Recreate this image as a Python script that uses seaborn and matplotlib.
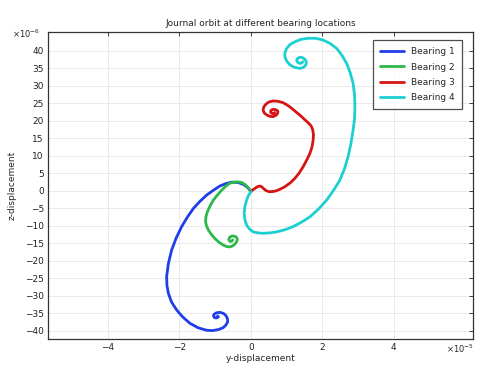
import numpy as np
import pandas as pd
import matplotlib
matplotlib.use("Agg")
from matplotlib import pyplot as plt
import seaborn as sns

# y-displacement in units of 1e-5, z-displacement in units of 1e-6
b1_y = [0, -0.06, -0.12, -0.22, -0.36, -0.54, -0.70, -0.87, -1.05, -1.24, -1.43, -1.61, -1.78,
        -1.94, -2.09, -2.22, -2.31, -2.36, -2.35, -2.31, -2.22, -2.08, -1.91, -1.71, -1.48,
        -1.24, -1.07, -0.91, -0.78, -0.70, -0.65, -0.66, -0.70, -0.77, -0.86, -0.96, -1.03,
        -1.05, -1.02, -0.96, -0.91, -0.93]
b1_z = [-0.3, 0.5, 1.1, 1.8, 2.3, 2.4, 2.0, 1.3, 0.1, -1.3, -3.1, -5.1, -7.6,
        -10.3, -13.5, -17.0, -20.8, -24.6, -27.2, -29.4, -31.9, -34.1, -36.1, -37.9, -39.2,
        -39.9, -40.0, -39.7, -39.2, -38.4, -37.5, -36.5, -35.7, -35.1, -34.8, -34.9, -35.3,
        -35.8, -36.3, -36.4, -36.1, -35.8]

b2_y = [0, -0.06, -0.12, -0.19, -0.26, -0.38, -0.49, -0.59, -0.70, -0.82, -0.94, -1.05, -1.14,
        -1.22, -1.26, -1.27, -1.24, -1.19, -1.11, -1.01, -0.89, -0.77, -0.68, -0.59, -0.51,
        -0.45, -0.40, -0.38, -0.41, -0.47, -0.54, -0.60, -0.62, -0.59, -0.54, -0.51]
b2_z = [-0.3, 0.6, 1.3, 1.9, 2.3, 2.5, 2.4, 2.1, 1.3, 0.1, -1.3, -2.7, -4.3,
        -6.1, -7.5, -8.9, -10.2, -11.3, -12.5, -13.7, -14.8, -15.6, -16.0, -16.1, -15.8,
        -15.3, -14.6, -13.9, -13.3, -13.0, -13.0, -13.4, -14.0, -14.5, -14.5, -14.1]

b3_y = [0, 0.05, 0.11, 0.18, 0.25, 0.30, 0.36, 0.42, 0.50, 0.60, 0.70, 0.82, 0.95, 1.10,
        1.23, 1.35, 1.46, 1.56, 1.65, 1.71, 1.74, 1.75, 1.73, 1.69, 1.60, 1.50, 1.42, 1.28,
        1.14, 1.02, 0.90, 0.76, 0.62, 0.50, 0.42, 0.36, 0.34, 0.37, 0.44, 0.53, 0.62, 0.70,
        0.75, 0.75, 0.70, 0.62, 0.56, 0.55, 0.59, 0.64, 0.66]
b3_z = [-0.3, 0.2, 0.6, 1.1, 1.3, 1.1, 0.5, 0.0, -0.3, -0.3, -0.1, 0.4, 1.1, 2.2,
        3.5, 5.0, 6.8, 8.7, 10.6, 12.5, 14.4, 16.0, 17.3, 18.4, 19.4, 20.3, 21.1, 22.3,
        23.5, 24.4, 25.1, 25.5, 25.6, 25.3, 24.7, 23.9, 23.0, 22.2, 21.6, 21.2, 21.1, 21.5,
        22.1, 22.7, 23.1, 23.2, 22.9, 22.4, 22.0, 22.0, 22.3]

b4_y = [0, -0.07, -0.12, -0.17, -0.19, -0.17, -0.12, -0.04, 0.06, 0.20, 0.34, 0.53, 0.72,
        0.95, 1.18, 1.42, 1.65, 1.89, 2.12, 2.32, 2.49, 2.62, 2.72, 2.80, 2.86, 2.90, 2.91,
        2.90, 2.86, 2.78, 2.68, 2.55, 2.40, 2.22, 2.02, 1.81, 1.60, 1.40, 1.23, 1.09, 1.00,
        0.95, 0.95, 1.00, 1.09, 1.22, 1.37, 1.47, 1.54, 1.55, 1.51, 1.44, 1.37, 1.30, 1.28,
        1.31, 1.37, 1.43, 1.45]
b4_z = [-0.3, -1.4, -2.7, -4.5, -6.5, -8.3, -9.9, -11.0, -11.8, -12.1, -12.2, -12.1, -11.8,
        -11.2, -10.3, -9.0, -7.5, -5.3, -2.7, 0.2, 3.0, 6.3, 9.7, 13.5, 17.3, 20.6, 23.9,
        27.3, 30.6, 33.6, 36.3, 38.6, 40.6, 42.0, 43.0, 43.5, 43.5, 43.2, 42.5, 41.7, 40.6,
        39.4, 38.2, 37.0, 35.9, 35.2, 34.9, 35.2, 35.9, 36.8, 37.5, 38.0, 38.1, 37.7, 37.1,
        36.6, 36.3, 36.5, 36.8]

names = ["Bearing 1", "Bearing 2", "Bearing 3", "Bearing 4"]
colors = ["#1f3de8", "#2db84c", "#d51515", "#1ccfd0"]

frames = []
for name, ys, zs in zip(names, [b1_y, b2_y, b3_y, b4_y], [b1_z, b2_z, b3_z, b4_z]):
    frames.append(pd.DataFrame({"y": ys, "z": zs, "bearing": name}))
df = pd.concat(frames, ignore_index=True)

sns.set_theme(style="whitegrid")
plt.rcParams["font.family"] = ["DejaVu Sans"]

fig = plt.figure(figsize=(4.81, 3.66), dpi=100)
ax = fig.add_axes([0.0998, 0.0738, 0.8832, 0.8388])

sns.lineplot(data=df, x="y", y="z", hue="bearing", palette=colors, sort=False,
             estimator=None, units="bearing", linewidth=2.0, ax=ax)
for line in ax.get_lines():
    line.set_solid_joinstyle("round")
    line.set_solid_capstyle("round")

ax.set_xlim(-5.68, 6.21)
ax.set_ylim(-42.4, 45.3)
ax.set_xticks([-4, -2, 0, 2, 4])
ax.set_yticks(np.arange(-40, 41, 5))
ax.tick_params(direction="in", length=3, width=0.6, top=True, right=True,
               labelsize=6.5, colors="#222222", pad=3)
ax.grid(color="#e6e6e6", linewidth=0.6)
for s in ax.spines.values():
    s.set_color("#333333")
    s.set_linewidth(0.9)

ax.set_title("Journal orbit at different bearing locations", fontsize=6.5, pad=4)
ax.set_xlabel("y-displacement", fontsize=6.5, labelpad=1)
ax.set_ylabel("z-displacement", fontsize=6.5, labelpad=6)

fig.text(474 / 481, 1 - 349 / 366, "\u00d710$^{-5}$", fontsize=6, ha="right", va="center")
fig.text(12 / 481, 1 - 34 / 366, "\u00d710$^{-6}$", fontsize=6, ha="left", va="center")

leg = ax.legend(loc="upper right", fontsize=6.5, frameon=True, fancybox=False,
                edgecolor="#222222", borderpad=0.8, handlelength=2.6, labelspacing=0.7,
                borderaxespad=0, bbox_to_anchor=(0.974, 0.974))
leg.get_frame().set_linewidth(0.9)
for line in leg.get_lines():
    line.set_linewidth(2.0)

fig.savefig("out.png", dpi=100)
